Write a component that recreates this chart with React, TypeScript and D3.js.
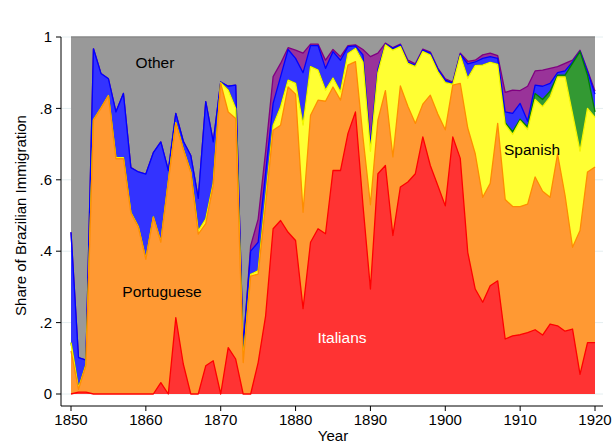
import * as d3 from 'd3';

// shares of immigration by group, 1850-1920
const years = d3.range(1850, 1921);

const italians = [
  0, 0.005, 0.005, 0, 0, 0, 0, 0, 0, 0,
  0, 0, 0.032, 0, 0.214, 0.084, 0, 0, 0.079, 0.093,
  0, 0.13, 0.098, 0, 0, 0.088, 0.219, 0.463, 0.486, 0.453,
  0.43, 0.239, 0.425, 0.463, 0.449, 0.626, 0.626, 0.73, 0.79, 0.53,
  0.294, 0.617, 0.64, 0.444, 0.58, 0.594, 0.617, 0.72, 0.64, 0.584,
  0.527, 0.72, 0.66, 0.397, 0.294, 0.257, 0.303, 0.317, 0.154, 0.163,
  0.166, 0.172, 0.18, 0.165, 0.196, 0.191, 0.176, 0.182, 0.055, 0.144,
  0.144,
];
const portuguese = [
  0.121, 0.008, 0.075, 0.767, 0.8, 0.835, 0.659, 0.659, 0.507, 0.467,
  0.377, 0.495, 0.393, 0.594, 0.544, 0.601, 0.62, 0.448, 0.398, 0.491,
  0.87, 0.66, 0.674, 0.088, 0.33, 0.248, 0.311, 0.276, 0.267, 0.407,
  0.41, 0.27, 0.356, 0.36, 0.371, 0.234, 0.197, 0.191, 0.141, 0.19,
  0.236, 0.15, 0.21, 0.22, 0.283, 0.212, 0.141, 0.092, 0.197, 0.2,
  0.213, 0.145, 0.21, 0.348, 0.379, 0.294, 0.287, 0.441, 0.391, 0.362,
  0.359, 0.36, 0.428, 0.403, 0.355, 0.481, 0.38, 0.229, 0.403, 0.478,
  0.492,
];
const spanish = [
  0.023, 0.003, 0.002, 0.001, 0.001, 0.001, 0.003, 0.003, 0.001, 0.001,
  0.001, 0.001, 0.001, 0.001, 0.002, 0.001, 0.002, 0.008, 0.013, 0.006,
  0.002, 0.061, 0.028, 0.004, 0.005, 0.009, 0.02, 0.013, 0.051, 0.019,
  0.03, 0.244, 0.136, 0.084, 0.031, 0.025, 0.023, 0.033, 0.037, 0.21,
  0.15, 0.133, 0.128, 0.299, 0.11, 0.12, 0.159, 0.147, 0.112, 0.119,
  0.132, 0.002, 0.078, 0.139, 0.247, 0.37, 0.339, 0.165, 0.21, 0.202,
  0.24, 0.209, 0.217, 0.237, 0.281, 0.216, 0.332, 0.374, 0.222, 0.178,
  0.139,
];
const greenGroup = [
  0, 0, 0, 0, 0, 0, 0, 0, 0, 0,
  0, 0, 0, 0, 0, 0, 0, 0, 0, 0,
  0, 0, 0, 0, 0, 0, 0, 0, 0, 0,
  0, 0, 0, 0, 0, 0, 0, 0, 0, 0,
  0, 0, 0, 0, 0, 0, 0, 0, 0, 0,
  0, 0, 0, 0, 0, 0, 0, 0, 0.005, 0.008,
  0.005, 0.007, 0.017, 0.02, 0.016, 0.005, 0.005, 0.141, 0.279, 0.093,
  0.015,
];
const blueGroup = [
  0.309, 0.086, 0.013, 0.199, 0.097, 0.047, 0.128, 0.18, 0.126, 0.154,
  0.238, 0.18, 0.28, 0.031, 0.026, 0.022, 0.046, 0.092, 0.329, 0.116,
  0.002, 0.011, 0.065, 0.038, 0.065, 0.08, 0.07, 0.062, 0.085, 0.086,
  0.07, 0.147, 0.059, 0.069, 0.061, 0.074, 0.089, 0.019, 0.007, 0.02,
  0.02, 0.01, 0.002, 0.005, 0.005, 0.004, 0.004, 0.004, 0.006, 0.007,
  0.007, 0.004, 0.004, 0.041, 0.01, 0.019, 0.016, 0.017, 0.03, 0.051,
  0.044, 0.016, 0.023, 0.037, 0.022, 0.007, 0.012, 0.004, 0.001, 0.01,
  0.05,
];
const purpleGroup = [
  0, 0, 0, 0, 0, 0, 0, 0, 0, 0,
  0, 0, 0, 0, 0, 0, 0, 0, 0, 0,
  0, 0, 0, 0, 0.015, 0.065, 0.06, 0.075, 0.037, 0.005,
  0.023, 0.055, 0.004, 0.004, 0.023, 0.006, 0.01, 0.003, 0.003, 0.015,
  0.245, 0.045, 0.003, 0.002, 0.002, 0.005, 0.004, 0.003, 0.003, 0.003,
  0.004, 0.003, 0.003, 0.007, 0.005, 0.01, 0.01, 0.008, 0.055, 0.065,
  0.036, 0.098, 0.04, 0.045, 0.042, 0.017, 0.021, 0.005, 0.003, 0.004,
  0.008,
];

const xTicks = [1850, 1860, 1870, 1880, 1890, 1900, 1910, 1920];
const yTicks = [0, 0.2, 0.4, 0.6, 0.8, 1];
const yTickLabels = ['0', '.2', '.4', '.6', '.8', '1'];

const layers = [
  { key: 'italians', fill: '#ff3333', stroke: '#ff0000' },
  { key: 'portuguese', fill: '#ff9933', stroke: '#ff8c00' },
  { key: 'spanish', fill: '#ffff33', stroke: '#f5f500' },
  { key: 'green', fill: '#339933', stroke: '#008000' },
  { key: 'blue', fill: '#3333ff', stroke: '#0000ff' },
  { key: 'purple', fill: '#993399', stroke: '#800080' },
  { key: 'other', fill: '#999999', stroke: '#8a8a8a' },
];

const FONT = 'Liberation Sans, Arial, Helvetica, sans-serif';

export default function App() {
  const width = 613;
  const height = 443;

  const x = d3.scaleLinear().domain([1850, 1920]).range([71, 595]);
  const y = d3.scaleLinear().domain([0, 1]).range([394, 37]);

  const rows = years.map((yr, i) => {
    const known = italians[i] + portuguese[i] + spanish[i] + greenGroup[i] + blueGroup[i] + purpleGroup[i];
    return {
      year: yr,
      italians: italians[i],
      portuguese: portuguese[i],
      spanish: spanish[i],
      green: greenGroup[i],
      blue: blueGroup[i],
      purple: purpleGroup[i],
      other: Math.max(0, 1 - known),
    };
  });

  const stacked = d3.stack().keys(layers.map((l) => l.key))(rows);

  // each layer is drawn from zero up to its cumulative top, largest first,
  // so every outline stays visible like in the original
  const area = d3
    .area()
    .x((d) => x(d.data.year))
    .y0(y(0))
    .y1((d) => y(d[1]));

  const topLine = d3
    .line()
    .x((d) => x(d.data.year))
    .y((d) => y(d[1]));

  const axisX = 61;
  const axisY = 406;
  const plotRight = 603;

  const drawOrder = stacked.map((s, i) => ({ s, style: layers[i] })).reverse();

  return (
    <svg
      width={width}
      height={height}
      style={{ position: 'absolute', left: 0, top: 0, background: '#fff' }}
      fontFamily={FONT}
    >
      {/* grid */}
      {yTicks.map((t) => (
        <line key={'g' + t} x1={axisX} x2={plotRight} y1={y(t)} y2={y(t)} stroke="#e4eef0" strokeWidth={1} />
      ))}

      {/* stacked areas */}
      {drawOrder.map(({ s, style }) => (
        <g key={s.key}>
          <path d={area(s)} fill={style.fill} />
          <path d={topLine(s)} fill="none" stroke={style.stroke} strokeWidth={1.3} strokeLinejoin="round" />
        </g>
      ))}

      {/* axes */}
      <line x1={axisX} x2={axisX} y1={y(1)} y2={axisY} stroke="#000" strokeWidth={1} />
      <line x1={axisX} x2={plotRight} y1={axisY} y2={axisY} stroke="#000" strokeWidth={1} />
      {yTicks.map((t, i) => (
        <g key={'y' + t}>
          <line x1={axisX - 5} x2={axisX} y1={y(t)} y2={y(t)} stroke="#000" />
          <text x={axisX - 9} y={y(t)} dy="0.35em" textAnchor="end" fontSize={15} fill="#000">
            {yTickLabels[i]}
          </text>
        </g>
      ))}
      {xTicks.map((t) => (
        <g key={'x' + t}>
          <line x1={x(t)} x2={x(t)} y1={axisY} y2={axisY + 5} stroke="#000" />
          <text x={x(t)} y={axisY + 19} textAnchor="middle" fontSize={15} fill="#000">
            {t}
          </text>
        </g>
      ))}

      {/* axis titles */}
      <text x={333} y={441} textAnchor="middle" fontSize={15} fill="#000">
        Year
      </text>
      <text
        transform={`translate(26, ${(y(0) + y(1)) / 2}) rotate(-90)`}
        textAnchor="middle"
        fontSize={15}
        fill="#000"
      >
        Share of Brazilian Immigration
      </text>

      {/* labels on areas */}
      <text x={155} y={68} textAnchor="middle" fontSize={15.5} fill="#000">Other</text>
      <text x={162} y={297} textAnchor="middle" fontSize={15.5} fill="#000">Portuguese</text>
      <text x={342} y={343} textAnchor="middle" fontSize={15.5} fill="#fff">Italians</text>
      <text x={532} y={155} textAnchor="middle" fontSize={15.5} fill="#000">Spanish</text>
    </svg>
  );
}
